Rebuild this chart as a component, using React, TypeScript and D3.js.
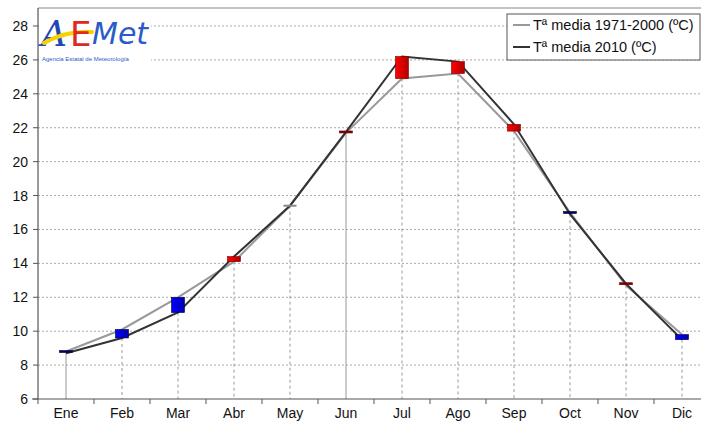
import * as d3 from "d3";
import React from "react";

const months = ["Ene", "Feb", "Mar", "Abr", "May", "Jun", "Jul", "Ago", "Sep", "Oct", "Nov", "Dic"];
const normal7100 = [8.8, 10.1, 12.0, 14.1, 17.4, 21.7, 24.9, 25.2, 21.8, 17.0, 12.7, 9.8];
const media2010 = [8.7, 9.6, 11.1, 14.4, 17.4, 21.75, 26.2, 25.9, 22.2, 16.9, 12.8, 9.5];
const yTicks = [6, 8, 10, 12, 14, 16, 18, 20, 22, 24, 26, 28];
const legendLabels = ["Tª media 1971-2000 (ºC)", "Tª media 2010 (ºC)"];
const solidDrops = ["Ene", "Jun"];

const W = 701;
const H = 423;
const left = 38;
const bottom = 399;
const top = 8;
const font = "Arial, 'Liberation Sans', sans-serif";

export default function App() {
  const x = d3.scaleBand<string>().domain(months).range([left, left + 12 * 56]).padding(0);
  const y = d3.scaleLinear().domain([6, 28]).range([bottom, 26]);
  const cx = (m: string) => (x(m) as number) + x.bandwidth() / 2;

  const line = d3
    .line<number>()
    .x((_, i) => cx(months[i]))
    .y((d) => y(d));

  const boxW = 13;

  return (
    <div style={{ position: "absolute", left: 0, top: 0 }}>
      <svg width={W} height={H} style={{ display: "block", background: "#fff" }}>
        <defs>
          <linearGradient id="redG" x1="0" x2="1" y1="0" y2="0">
            <stop offset="0" stopColor="#ff0000" />
            <stop offset="1" stopColor="#b00000" />
          </linearGradient>
          <linearGradient id="blueG" x1="0" x2="1" y1="0" y2="0">
            <stop offset="0" stopColor="#0000ff" />
            <stop offset="1" stopColor="#0000b0" />
          </linearGradient>
        </defs>

        {/* horizontal grid */}
        {yTicks.slice(1).map((t) => (
          <line key={"g" + t} x1={left} x2={W} y1={y(t)} y2={y(t)} stroke="#aaa" strokeWidth={1} strokeDasharray="2,2" />
        ))}

        {/* plot top border */}
        <line x1={left} x2={W} y1={top} y2={top} stroke="#888" strokeWidth={1} />

        {/* drop lines */}
        {months.map((m, i) => {
          const v = Math.min(normal7100[i], media2010[i]);
          const solid = solidDrops.includes(m);
          return (
            <line
              key={"d" + m}
              x1={cx(m)}
              x2={cx(m)}
              y1={y(v)}
              y2={bottom}
              stroke="#999"
              strokeWidth={1}
              strokeDasharray={solid ? undefined : "3,3"}
            />
          );
        })}

        {/* lines */}
        <path d={line(normal7100) || ""} fill="none" stroke="#999" strokeWidth={2} />
        <path d={line(media2010) || ""} fill="none" stroke="#333" strokeWidth={2} />

        {/* difference boxes */}
        {months.map((m, i) => {
          const a = normal7100[i];
          const b = media2010[i];
          const hi = Math.max(a, b);
          const lo = Math.min(a, b);
          let h = y(lo) - y(hi);
          const warm = b > a;
          const equal = Math.abs(b - a) < 0.01;
          if (h < 2) h = 2;
          const fill = equal ? "#888" : h <= 3 ? (warm ? "#700" : "#006") : warm ? "url(#redG)" : "url(#blueG)";
          return (
            <rect
              key={"b" + m}
              x={cx(m) - boxW / 2}
              y={h <= 2 ? y(hi) - 1 : y(hi)}
              width={boxW}
              height={h}
              fill={fill}
              stroke={equal ? "none" : warm ? "#700" : "#003"}
              strokeWidth={0.6}
            />
          );
        })}

        {/* axes */}
        <line x1={left} x2={left} y1={top} y2={bottom} stroke="#555" strokeWidth={1.2} />
        <line x1={left - 6} x2={W} y1={bottom} y2={bottom} stroke="#555" strokeWidth={1.2} />
        {yTicks.map((t) => (
          <g key={"yt" + t}>
            <line x1={left - 5} x2={left} y1={y(t)} y2={y(t)} stroke="#555" />
            <text x={28} y={y(t) + 5} textAnchor="end" fontFamily={font} fontSize={14} fill="#111">
              {t}
            </text>
          </g>
        ))}
        {months.map((m) => (
          <g key={"xt" + m}>
            <line x1={x(m) as number} x2={x(m) as number} y1={bottom} y2={bottom + 5} stroke="#555" />
            <text x={cx(m)} y={418} textAnchor="middle" fontFamily={font} fontSize={14} fill="#111">
              {m}
            </text>
          </g>
        ))}

        {/* logo */}
        <rect x={left + 1} y={top + 1} width={112} height={57} fill="#fff" />
        <text x={41} y={46} fontFamily="'DejaVu Serif', serif" fontStyle="italic" fontSize={36} fill="#2146b8">
          A
        </text>
        <path d="M44,43 C60,34 75,31 92,32" fill="none" stroke="#f5d200" strokeWidth={4} strokeLinecap="round" />
        <text x={70} y={46} fontFamily="'DejaVu Sans', sans-serif" fontSize={34} fill="#e0281e">
          E
        </text>
        <text x={92} y={44} fontFamily="'DejaVu Sans', sans-serif" fontStyle="italic" fontSize={30} fill="#2a5cc8">
          Met
        </text>
        <text x={42} y={61} fontFamily={font} fontSize={6} fill="#2a5cc8">
          Agencia Estatal de Meteorología
        </text>

        {/* legend */}
        <rect x={507} y={14} width={193} height={46} fill="#fff" stroke="#555" strokeWidth={1} />
        {legendLabels.map((l, i) => (
          <g key={l}>
            <line x1={513} x2={530} y1={25 + i * 22} y2={25 + i * 22} stroke={i === 0 ? "#999" : "#333"} strokeWidth={2} />
            <text x={533} y={30 + i * 22} fontFamily={font} fontSize={14.5} fill="#111">
              {l}
            </text>
          </g>
        ))}
      </svg>
    </div>
  );
}
